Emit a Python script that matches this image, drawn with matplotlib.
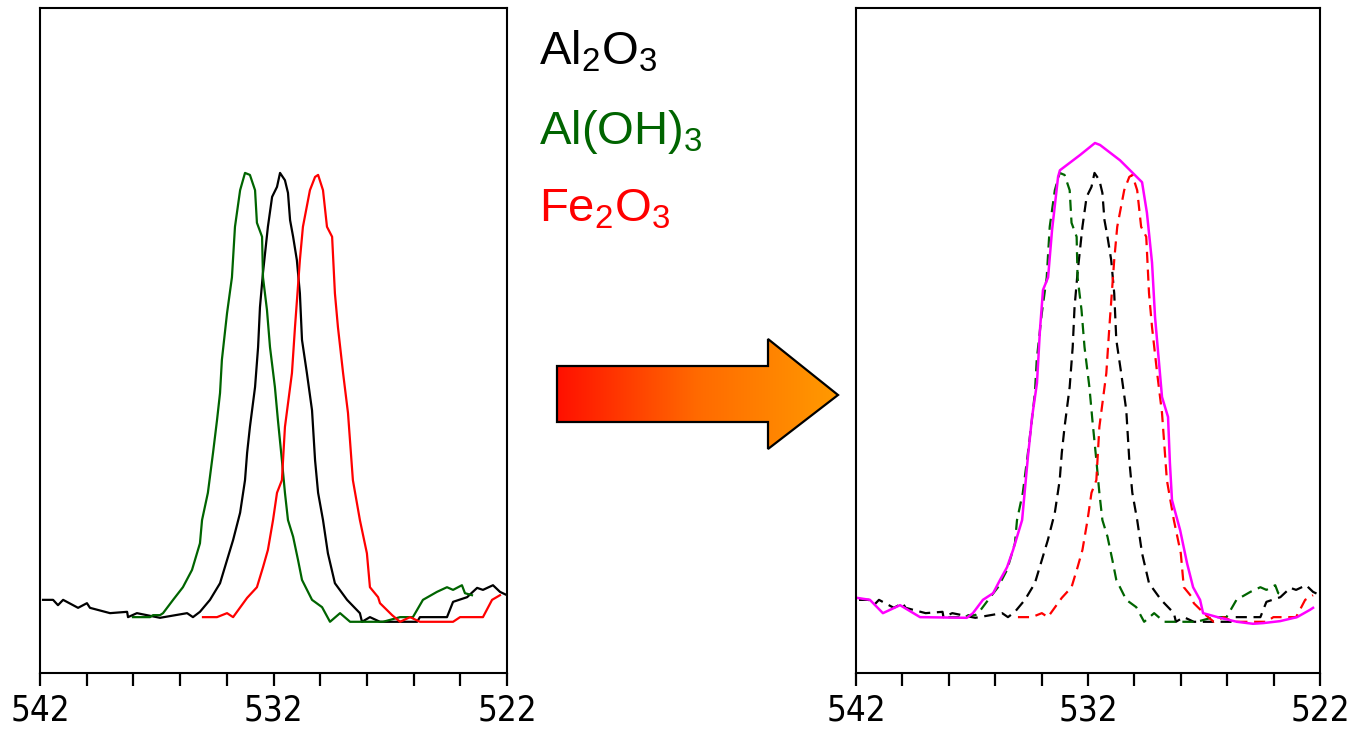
# -*- coding: utf-8 -*-
# O 1s spectra of three oxides and their combined envelope

import numpy as np
import matplotlib
matplotlib.use("Agg")
import matplotlib.pyplot as plt
from matplotlib.patches import Polygon

# %% data (binding energy / eV, intensity / a.u.)

al2o3_e = [541.87, 541.44, 541.23, 541.01, 540.37, 539.99, 539.86, 539.0, 538.27, 538.23,
           537.85, 536.86, 535.70, 535.45, 535.15, 534.72, 534.29, 533.73, 533.43, 533.22,
           533.13, 533.01, 532.79, 532.66, 532.58, 532.45, 532.24, 532.06, 531.85, 531.72,
           531.51, 531.38, 531.29, 531.16, 531.0, 530.87, 530.78, 530.57, 530.35, 530.22,
           530.09, 529.88, 529.67, 529.37, 528.85, 528.30, 528.21, 527.87, 527.44, 525.85,
           525.73, 524.57, 524.31, 523.71, 523.28, 523.03, 522.60, 522.30, 522.0]
al2o3_i = [11.0, 11.0, 10.2, 11.0, 9.8, 10.5, 9.8, 9.0, 9.2, 8.4,
           9.0, 8.3, 9.0, 8.4, 9.2, 11.0, 13.5, 20.0, 24.1, 29.0,
           33.1, 37.0, 43.0, 49.0, 55.0, 60.2, 67.1, 71.6, 73.1, 75.2,
           74.1, 72.2, 68.1, 65.6, 62.1, 57.1, 50.1, 45.1, 39.5, 32.0,
           27.1, 23.0, 18.0, 13.5, 11.0, 9.0, 7.7, 8.4, 7.7, 7.7,
           8.4, 8.4, 10.7, 11.4, 12.8, 12.5, 13.2, 12.2, 11.7]

aloh3_e = [538.02, 537.29, 537.16, 536.86, 536.73, 536.30, 535.88, 535.49, 535.15, 535.06,
           534.81, 534.59, 534.42, 534.29, 534.21, 533.99, 533.78, 533.65, 533.43, 533.22,
           533.01, 532.79, 532.71, 532.49, 532.45, 532.28, 532.15, 531.94, 531.81, 531.64,
           531.51, 531.38, 531.16, 530.95, 530.78, 530.35, 529.92, 529.58, 529.15, 528.72,
           527.31, 526.58, 526.03, 525.60, 525.0, 524.57, 524.31, 523.93, 523.80, 523.50]
aloh3_i = [8.4, 8.4, 8.7, 8.7, 9.0, 11.0, 12.9, 15.5, 19.5, 23.0,
           27.1, 33.1, 38.0, 42.1, 47.1, 54.1, 59.5, 67.1, 72.6, 75.2,
           74.9, 72.6, 67.7, 65.6, 59.5, 54.6, 49.0, 43.0, 38.0, 32.0,
           27.1, 23.0, 20.5, 17.0, 14.0, 11.0, 9.9, 7.7, 9.0, 7.7,
           7.7, 8.4, 8.4, 11.0, 12.2, 12.9, 12.5, 13.2, 12.0, 11.7]

fe2o3_e = [535.02, 534.42, 533.99, 533.73, 533.13, 532.71, 532.45, 532.24, 532.02, 531.85,
           531.64, 531.51, 531.21, 531.08, 530.87, 530.74, 530.44, 530.22, 530.09, 529.88,
           529.71, 529.49, 529.37, 529.24, 529.02, 528.81, 528.60, 528.30, 528.0, 527.87,
           527.52, 527.44, 526.92, 526.58, 526.15, 525.73, 524.31, 524.01, 523.03, 522.64,
           522.30]
fe2o3_i = [8.4, 8.4, 9.0, 8.4, 11.3, 12.9, 15.9, 18.5, 23.0, 27.1,
           29.0, 37.0, 45.1, 52.0, 62.1, 67.1, 72.6, 74.6, 74.9, 72.6,
           67.1, 65.6, 57.1, 52.0, 45.1, 39.1, 29.0, 23.0, 18.0, 12.9,
           11.4, 10.5, 8.7, 7.7, 8.4, 7.7, 7.7, 8.4, 8.4, 11.0,
           11.7]

envelope_e = [541.96, 541.40, 540.84, 540.10, 539.24, 537.22, 536.96, 536.53, 536.09, 535.79,
              535.49, 535.23, 534.84, 534.59, 534.41, 534.20, 534.07, 533.94, 533.72, 533.55,
              533.29, 533.21, 532.34, 531.70, 531.48, 530.62, 529.67, 529.46, 529.24, 529.11,
              528.81, 528.55, 528.47, 528.38, 528.03, 527.73, 527.47, 527.17, 527.04, 526.31,
              525.58, 524.89, 524.46, 523.72, 522.99, 522.43, 522.30]
envelope_i = [11.3, 11.0, 9.0, 10.2, 8.4, 8.3, 9.0, 11.0, 12.0, 14.0,
              15.9, 18.5, 23.0, 32.5, 38.5, 43.6, 51.6, 57.6, 59.5, 66.6,
              74.6, 75.6, 77.9, 79.7, 79.4, 77.1, 73.8, 69.2, 61.7, 53.5,
              41.5, 38.5, 31.6, 26.0, 21.5, 16.5, 12.9, 11.0, 9.0, 8.3,
              7.7, 7.4, 7.5, 7.8, 8.4, 9.5, 9.8]

labels = [r"Al$_2$O$_3$", r"Al(OH)$_3$", r"Fe$_2$O$_3$"]
colors = ["black", "#006400", "#ff0000"]
tick_pos = [542, 540, 538, 536, 534, 532, 530, 528, 526, 524, 522]
tick_lab = ["542", "", "", "", "", "532", "", "", "", "", "522"]

# %% figure

plt.rcParams["mathtext.default"] = "regular"
plt.rcParams["font.family"] = ["Liberation Sans", "DejaVu Sans"]

W, H = 1348, 733
fig = plt.figure(figsize=(W / 100, H / 100), dpi=100)

ax1 = fig.add_axes([40 / W, 60 / H, 467 / W, 665 / H])
ax2 = fig.add_axes([856 / W, 60 / H, 464 / W, 665 / H])

series = [(al2o3_e, al2o3_i), (aloh3_e, aloh3_i), (fe2o3_e, fe2o3_i)]

for (e, i), c in zip(series, colors):
    ax1.plot(e, i, color=c, lw=1.6)
    ax2.plot(e, i, color=c, lw=1.6, dashes=(5, 3))
ax2.plot(envelope_e, envelope_i, color="#ff00ff", lw=1.8)

for ax in (ax1, ax2):
    ax.set_xlim(542, 522)
    ax.set_ylim(0, 100)
    ax.set_yticks([])
    ax.set_xticks(tick_pos)
    ax.set_xticklabels(tick_lab, family="DejaVu Sans", stretch="condensed")
    ax.tick_params(axis="x", direction="out", length=9, width=1.6, pad=6, labelsize=25)
    for s in ax.spines.values():
        s.set_linewidth(1.5)

# legend as coloured formulas
for k, (lab, c) in enumerate(zip(labels, colors)):
    fig.text(539 / W, 1 - (65 + 78.5 * k) / H, lab, color=c, fontsize=34,
             ha="left", va="baseline")

# gradient arrow in pixel coordinates
ov = fig.add_axes([0, 0, 1, 1], zorder=5)
ov.set_xlim(0, W)
ov.set_ylim(H, 0)
ov.axis("off")
arrow_xy = [(557, 366), (768, 366), (768, 339), (838, 395), (768, 449), (768, 422), (557, 422)]
arrow = Polygon(arrow_xy, closed=True, facecolor="none", edgecolor="black", lw=1.6, zorder=3)
ov.add_patch(arrow)
grad = np.linspace(0, 1, 256).reshape(1, -1)
cmap = matplotlib.colors.LinearSegmentedColormap.from_list("ro", ["#ff1000", "#ff6a00", "#ff9a00"])
im = ov.imshow(grad, cmap=cmap, extent=(557, 838, 449, 339), aspect="auto", zorder=2)
im.set_clip_path(arrow)
ov.set_xlim(0, W)
ov.set_ylim(H, 0)

fig.savefig("out.png", dpi=100)
